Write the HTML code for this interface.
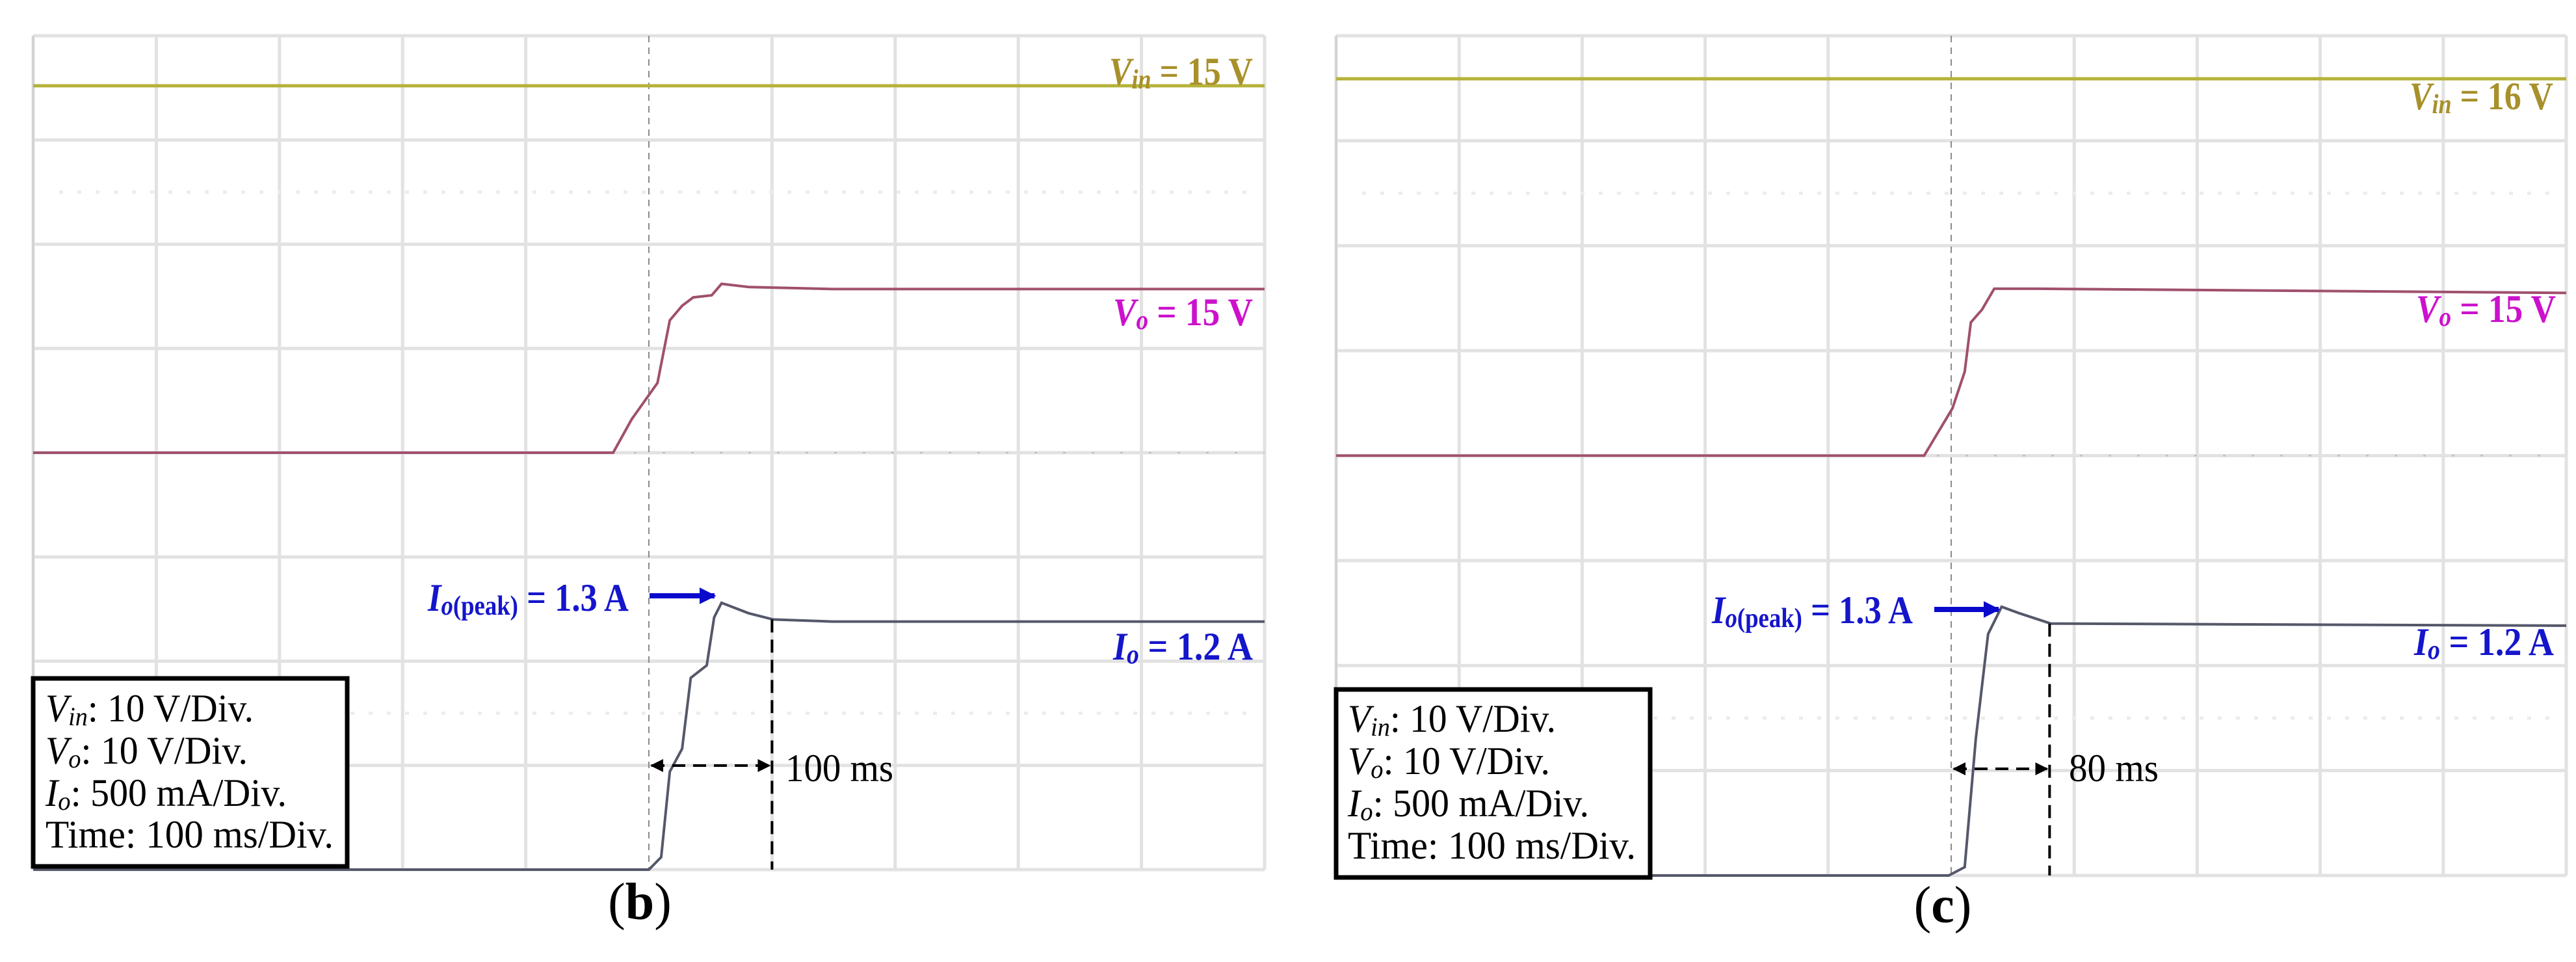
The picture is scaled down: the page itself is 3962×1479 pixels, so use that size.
<!DOCTYPE html>
<html><head><meta charset="utf-8"><style>html,body{margin:0;padding:0;background:#fff}svg{display:block}</style></head>
<body>
<svg id="fig" width="3962" height="1479" viewBox="0 0 3962 1479" xmlns="http://www.w3.org/2000/svg" font-family="'Liberation Serif', serif">
<defs>
<marker id="ah" viewBox="0 0 10 10" refX="9" refY="5" markerWidth="5" markerHeight="5" orient="auto-start-reverse"><path d="M0,0 L10,5 L0,10 z" fill="#000"/></marker>
<marker id="bh" viewBox="0 0 10 10" refX="9" refY="5" markerWidth="3.2" markerHeight="3.2" orient="auto"><path d="M0,0 L10,5 L0,10 z" fill="#0a0acc"/></marker>
</defs>
</svg>
<script>
// ---- data (time in ms, 100 ms/div; Vin/Vo in V, 10 V/div; Io in A, 0.5 A/div)
const timeTicks = [0,100,200,300,400,500,600,700,800,900,1000];
const vinB = [[0,15.2],[1000,15.2]];
const voB_t = [0,471,486,507,517,527,536,551,559,581,649,1000];
const voB_v = [0,0,3.2,6.7,12.7,14.1,14.9,15.1,16.2,15.9,15.7,15.7];
const ioB_t = [0,500,510,517,527,534,547,553,559,581,601,649,1000];
const ioB_v = [0,0,0.06,0.47,0.58,0.92,0.98,1.21,1.28,1.23,1.20,1.19,1.19];
const vinC = [[0,15.9],[1000,15.9]];
const voC_t = [0,478,501,511,516,525,535,569,1000];
const voC_v = [0,0,4.5,8,12.7,13.9,15.9,15.9,15.5];
const ioC_t = [0,498,511,520,530,541,555,581,1000];
const ioC_v = [0,0,0.04,0.65,1.15,1.28,1.25,1.20,1.19];

const NS="http://www.w3.org/2000/svg";
const svg=document.getElementById('fig');
function mk(tag,attrs,parent){const e=document.createElementNS(NS,tag);for(const k in attrs)e.setAttribute(k,attrs[k]);(parent||svg).appendChild(e);return e;}

function panel(P){
  const g=mk('g',{});
  
  
  const dx=(P.x1-P.x0)/10, dy=(P.y1-P.y0)/8;
  const xs=t=>P.x0+t/100*dx;
  const yV=(v,gdiv)=>P.y0+gdiv*dy - v/10*dy;
  const yI=a=>P.y1 - a/0.5*dy;
  const grid=mk('g',{stroke:'#e2e2e2','stroke-width':5},g);
  
  
  timeTicks.forEach(t=>{ if(t!==500) mk('line',{x1:xs(t),x2:xs(t),y1:P.y0,y2:P.y1},grid);});
  for(let i=0;i<=8;i++) mk('line',{x1:P.x0,x2:P.x1,y1:P.y0+i*dy,y2:P.y0+i*dy},grid);
  [1.5,6.5].forEach(d=>mk('line',{x1:P.x0+40,x2:P.x1-20,y1:P.y0+d*dy,y2:P.y0+d*dy,stroke:'#ececec','stroke-dasharray':'6 22'},grid));
  mk('line',{x1:xs(500),x2:xs(500),y1:P.y0,y2:P.y1,stroke:'#8a8a8a','stroke-width':2,'stroke-dasharray':'10 8'},g);
  mk('line',{x1:P.x0,x2:P.x1,y1:P.y0+4*dy,y2:P.y0+4*dy,stroke:'#bbb','stroke-width':2,'stroke-dasharray':'4 40'},g);
  mk('line',{x1:P.x0,x2:P.x0,y1:P.y0,y2:P.y1,stroke:'#d0d0d0','stroke-width':3},g);
  const vin=mk('polyline',{fill:'none',stroke:'#b5b23a','stroke-width':5,points:P.vin.map(p=>xs(p[0])+','+yV(p[1],2)).join(' ')},g);
  
  
  const vo=mk('polyline',{fill:'none',stroke:'#a0506e','stroke-width':4,points:P.voT.map((t,i)=>xs(t)+','+yV(P.voV[i],4)).join(' ')},g);
  
  
  const io=mk('polyline',{fill:'none',stroke:'#55586a','stroke-width':4,points:P.ioT.map((t,i)=>xs(t)+','+yI(P.ioV[i])).join(' ')},g);
  
  
  const dl=mk('line',{x1:xs(P.settle),x2:xs(P.settle),y1:yI(1.2),y2:P.y1,stroke:'#000','stroke-width':4,'stroke-dasharray':'20 11'},g);
  
  
  const ar=mk('line',{x1:xs(500)+4,x2:xs(P.settle)-4,y1:P.arrowY,y2:P.arrowY,stroke:'#000','stroke-width':4,'stroke-dasharray':'20 12','marker-start':'url(#ah)','marker-end':'url(#ah)'},g);
  
  
  const bl=mk('line',{x1:P.pk.ax0,x2:P.pk.ax1,y1:P.pk.ay,y2:P.pk.ay,stroke:'#0a0acc','stroke-width':8,'marker-end':'url(#bh)'},g);
  
  
  const box=mk('rect',{x:P.box[0],y:P.box[1],width:P.box[2],height:P.box[3],fill:'#fff',stroke:'#000','stroke-width':7},g);
  
  
  return g;
}
function txt(g,html,x,y,len,attrs,name){
  const t=mk('text',Object.assign({x:x,y:y,textLength:len,lengthAdjust:'spacingAndGlyphs'},attrs),g);
  t.innerHTML=html;
  
  
  return t;
}
const panels=[
 {id:'b',x0:51,x1:1945,y0:55,y1:1337,vin:vinB,voT:voB_t,voV:voB_v,ioT:ioB_t,ioV:ioB_v,settle:600,arrowY:1177,
  pk:{ax0:999,ax1:1099,ay:916},box:[51,1043,483,289],
  vinLbl:['15',1706,130],voLbl:[1712,500],ioLbl:[1712,1014],pkLbl:[658,939],lines:[1109,1174,1239,1303],lx:70,
  ms:['100 ms',1208,1201,166],cap:['(b)',984,1413]},
 {id:'c',x0:2055,x1:3947,y0:55,y1:1346,vin:vinC,voT:voC_t,voV:voC_v,ioT:ioC_t,ioV:ioC_v,settle:580,arrowY:1182,
  pk:{ax0:2975,ax1:3074,ay:937},box:[2055,1060,483,289],
  vinLbl:['16',3706,168],voLbl:[3716,495],ioLbl:[3713,1007],pkLbl:[2633,958],lines:[1125,1190,1255,1320],lx:2073,
  ms:['80 ms',3182,1201,138],cap:['(c)',2988,1418]}
];
panels.forEach(P=>{
  const g=panel(P);
  const B={'font-weight':'bold','font-size':60};
  txt(g,'<tspan font-style="italic">V</tspan><tspan font-style="italic" font-size="42" dy="6">in</tspan><tspan dy="-6"> = '+P.vinLbl[0]+' V</tspan>',P.vinLbl[1],P.vinLbl[2],221,Object.assign({fill:'#a8902a'},B),'vin-label');
  txt(g,'<tspan font-style="italic">V</tspan><tspan font-style="italic" font-size="42" dy="6">o</tspan><tspan dy="-6"> = 15 V</tspan>',P.voLbl[0],P.voLbl[1],215,Object.assign({fill:'#cc11cc'},B),'vo-label');
  txt(g,'<tspan font-style="italic">I</tspan><tspan font-style="italic" font-size="42" dy="6">o</tspan><tspan dy="-6"> = 1.2 A</tspan>',P.ioLbl[0],P.ioLbl[1],215,Object.assign({fill:'#1515cc'},B),'io-label');
  txt(g,'<tspan font-style="italic">I</tspan><tspan font-size="42" dy="6"><tspan font-style="italic">o</tspan>(peak)</tspan><tspan dy="-6"> = 1.3 A</tspan>',P.pkLbl[0],P.pkLbl[1],309,Object.assign({fill:'#1515cc'},B),'io-peak-label');
  const R={'font-size':60,fill:'#000'};
  txt(g,'<tspan font-style="italic">V</tspan><tspan font-style="italic" font-size="40" dy="6">in</tspan><tspan dy="-6">: 10 V/Div.</tspan>',P.lx,P.lines[0],320,R,'vin-scale-text');
  txt(g,'<tspan font-style="italic">V</tspan><tspan font-style="italic" font-size="40" dy="6">o</tspan><tspan dy="-6">: 10 V/Div.</tspan>',P.lx,P.lines[1],311,R,'vo-scale-text');
  txt(g,'<tspan font-style="italic">I</tspan><tspan font-style="italic" font-size="40" dy="6">o</tspan><tspan dy="-6">: 500 mA/Div.</tspan>',P.lx,P.lines[2],371,R,'io-scale-text');
  txt(g,'Time: 100 ms/Div.',P.lx,P.lines[3],443,R,'time-scale-text');
  txt(g,P.ms[0],P.ms[1],P.ms[2],P.ms[3],{'font-size':60},'settle-time-label');
  const c=mk('text',{x:P.cap[1],y:P.cap[2],'text-anchor':'middle','font-size':80},g);
  c.innerHTML=P.cap[0].replace(/\((.)\)/,'(<tspan font-weight="bold">$1</tspan>)');
  
  
});
</script>
</body></html>
